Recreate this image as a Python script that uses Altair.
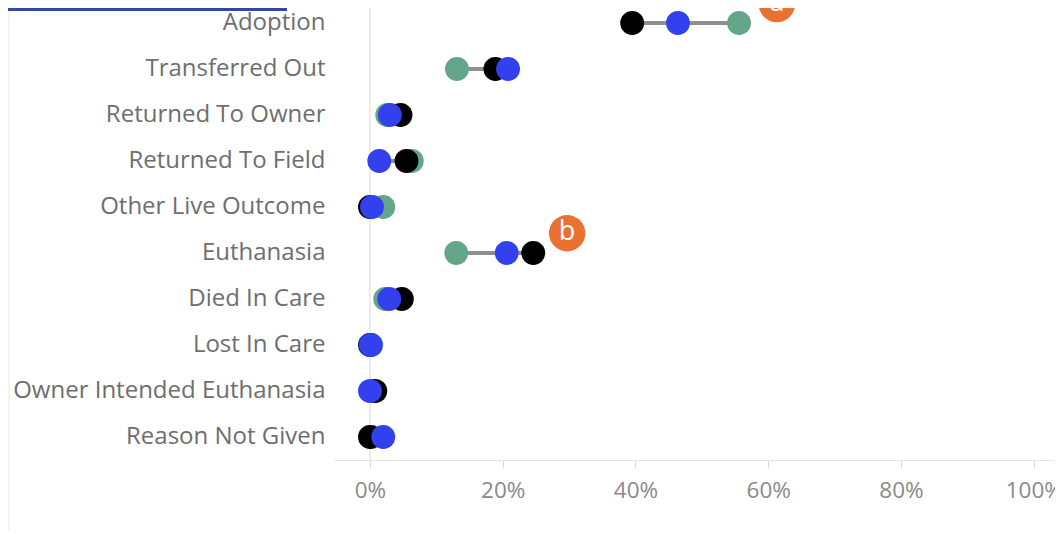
import altair as alt
import pandas as pd

categories = ["Adoption", "Transferred Out", "Returned To Owner", "Returned To Field",
              "Other Live Outcome", "Euthanasia", "Died In Care", "Lost In Care",
              "Owner Intended Euthanasia", "Reason Not Given"]
series_names = ["Series 1", "Series 2", "Series 3"]
series_colors = ["#64A68A", "#000000", "#3340EE"]
green_vals = [0.556, 0.131, 0.026, 0.063, 0.020, 0.130, 0.023, 0.002, 0.003, 0.003]
black_vals = [0.395, 0.189, 0.046, 0.055, 0.000, 0.246, 0.048, 0.000, 0.008, 0.000]
blue_vals = [0.464, 0.208, 0.030, 0.014, 0.003, 0.206, 0.029, 0.001, 0.000, 0.020]
tick_values = [0, 0.2, 0.4, 0.6, 0.8, 1.0]
annot_labels = ["a", "b"]
annot_x = [0.613, 0.297]
annot_row = [-0.41, 4.57]

rows = []
for i, c in enumerate(categories):
    for k, (s, vals) in enumerate(zip(series_names, [green_vals, black_vals, blue_vals])):
        rows.append({"row": i, "category": c, "series": s, "value": vals[i], "order": k})
df = pd.DataFrame(rows)

rng = pd.DataFrame({
    "row": list(range(len(categories))),
    "lo": [min(a, b, c) for a, b, c in zip(green_vals, black_vals, blue_vals)],
    "hi": [max(a, b, c) for a, b, c in zip(green_vals, black_vals, blue_vals)],
})
ann = pd.DataFrame({"label": annot_labels, "x": annot_x, "row": annot_row})

label_expr = "[" + ",".join("'" + c + "'" for c in categories) + "][datum.value]"
FONT = "Open Sans"

xscale = alt.Scale(domain=[-0.0542, 1.032], nice=False, zero=False)
yscale = alt.Scale(domain=[-0.326, 9.5], reverse=True, nice=False, zero=False)

x_axis = alt.Axis(values=tick_values, format=".0%", title=None, grid=False,
                  domainColor="#e3e3e3", tickColor="#dcdcdc", tickSize=8,
                  labelFontSize=22.5, labelColor="#8a8a8a", labelFont=FONT,
                  labelPadding=11)
y_axis = alt.Axis(values=list(range(len(categories))), labelExpr=label_expr,
                  title=None, grid=False, domain=False, ticks=False,
                  labelFontSize=24, labelColor="#6e6e6e", labelFont=FONT,
                  labelPadding=9, labelLimit=0)

zero_line = alt.Chart(pd.DataFrame({"z": [0]})).mark_rule(
    color="#e6e6e6", strokeWidth=1.5).encode(x=alt.X("z:Q", scale=xscale))

lines = alt.Chart(rng).mark_rule(color="#8f8f8f", strokeWidth=4).encode(
    x=alt.X("lo:Q", scale=xscale, axis=x_axis),
    x2="hi:Q",
    y=alt.Y("row:Q", scale=yscale, axis=y_axis),
)

dots = alt.Chart(df).mark_point(filled=True, opacity=1, size=570, shape="circle").encode(
    x=alt.X("value:Q", scale=xscale, axis=x_axis),
    y=alt.Y("row:Q", scale=yscale, axis=y_axis),
    color=alt.Color("series:N", scale=alt.Scale(domain=series_names, range=series_colors),
                    legend=None),
    order=alt.Order("order:Q"),
)

ann_dots = alt.Chart(ann).mark_point(filled=True, opacity=1, size=1320, shape="circle",
                                     color="#E97132").encode(
    x=alt.X("x:Q", scale=xscale, axis=x_axis), y=alt.Y("row:Q", scale=yscale, axis=y_axis))
ann_text = alt.Chart(ann).mark_text(color="white", fontSize=27, font=FONT,
                                    baseline="middle", dy=-1).encode(
    x=alt.X("x:Q", scale=xscale, axis=x_axis), y=alt.Y("row:Q", scale=yscale, axis=y_axis),
    text="label:N")

border = alt.Chart(pd.DataFrame({"z": [0]})).mark_rule(color="#e6e6e6", strokeWidth=1).encode(
    x=alt.value(-325), y=alt.value(-10), y2=alt.value(530))
topbar = alt.Chart(pd.DataFrame({"z": [0]})).mark_rule(color="#2E4AA3", strokeWidth=3).encode(
    x=alt.value(-334), x2=alt.value(-47), y=alt.value(1.5))

chart = alt.layer(zero_line, lines, dots, ann_dots, ann_text, border, topbar).properties(
    width=721, height=452,
    autosize=alt.AutoSizeParams(type="none"),
    padding={"left": 326, "top": 0, "right": 0, "bottom": 70},
).configure(background="white").configure_view(strokeWidth=0, stroke="transparent")

chart.save("out.html", embed_options={"renderer": "svg", "actions": False})
